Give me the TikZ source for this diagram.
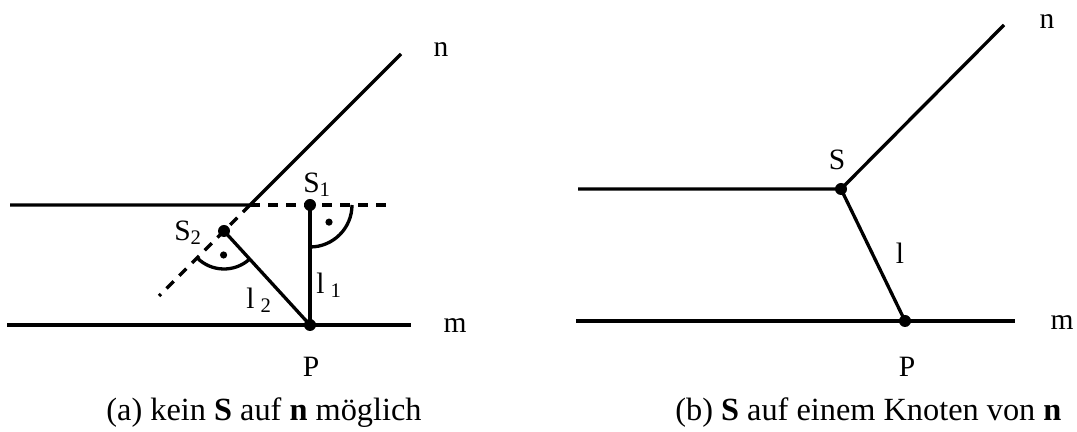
\documentclass[tikz,border=0pt]{standalone}
\usepackage{fontspec}
\setmainfont{Liberation Serif}
\usepackage{tikz}

\begin{document}
\begin{tikzpicture}[line width=2.35pt,
    lbl/.style={font=\fontsize{21}{25}\selectfont,inner sep=0pt},
    captiontext/.style={font=\fontsize{23}{27}\selectfont,inner sep=0pt,anchor=base},
    brokenline/.style={dash pattern=on 0.25cm off 0.2cm}]
  \useasboundingbox (0,0) rectangle (26.925,10.8);
  % (a) no S on n
  \coordinate (A1) at (0.25,5.675); \coordinate (X) at (6.25,5.675); \coordinate (B1) at (9.65,5.675);
  \coordinate (M1) at (0.175,2.675); \coordinate (M2) at (10.275,2.675);
  \coordinate (N1) at (10.025,9.45); \coordinate (N0) at (3.975,3.4);
  \coordinate (P) at (7.75,2.675); \coordinate (S1) at (7.75,5.675); \coordinate (S2) at (5.6,5.025);
  \draw (A1)--(X)--(N1); \draw (M1)--(M2);
  \draw[brokenline] (X)--(B1); \draw[brokenline] (X)--(N0);
  \draw (S1)--(P); \draw (S2)--(P);
  \draw ([shift={(0:1.05)}]S1) arc[start angle=0,end angle=-90,radius=1.05];
  \draw ([shift={(225:0.95)}]S2) arc[start angle=225,end angle=312.5,radius=0.95];
  \fill ([shift={(-42:0.64)}]S1) circle (0.09); \fill ([shift={(269:0.6)}]S2) circle (0.09);
  \fill (S1) circle (0.15); \fill (S2) circle (0.15); \fill (P) circle (0.15);
  \node[lbl] (nA) at (11.025,9.55) {n};
  \node[lbl] (mA) at (11.375,2.65) {m};
  \node[lbl] (PA) at (7.775,1.625) {P};
  \node[lbl] (S1A) at (7.925,6.175) {S\textsubscript{1}};
  \node[lbl] (S2A) at (4.7,4.975) {S\textsubscript{2}};
  \node[lbl] (l1A) at (8.225,3.675) {l\hspace{0.2em}\textsubscript{1}};
  \node[lbl] (l2A) at (6.475,3.3) {l\hspace{0.2em}\textsubscript{2}};
  \node[captiontext] (capA) at (6.6,0.275) {(a) kein \textbf{S} auf \textbf{n} möglich};
  % (b) S on a node of n
  \coordinate (A2) at (14.45,6.075); \coordinate (S) at (21.025,6.075); \coordinate (N2) at (25.1,10.175);
  \coordinate (M3) at (14.4,2.775); \coordinate (M4) at (25.375,2.775); \coordinate (Q) at (22.625,2.775);
  \draw (A2)--(S)--(N2); \draw (M3)--(M4); \draw (S)--(Q);
  \fill (S) circle (0.15); \fill (Q) circle (0.15);
  \node[lbl] (nB) at (26.175,10.25) {n};
  \node[lbl] (mB) at (26.55,2.725) {m};
  \node[lbl] (SB) at (20.925,6.8) {S};
  \node[lbl] (lB) at (22.5,4.475) {l};
  \node[lbl] (PB) at (22.675,1.625) {P};
  \node[captiontext] (capB) at (21.71,0.275) {(b) \textbf{S} auf einem Knoten von \textbf{n}};
\end{tikzpicture}
\end{document}
